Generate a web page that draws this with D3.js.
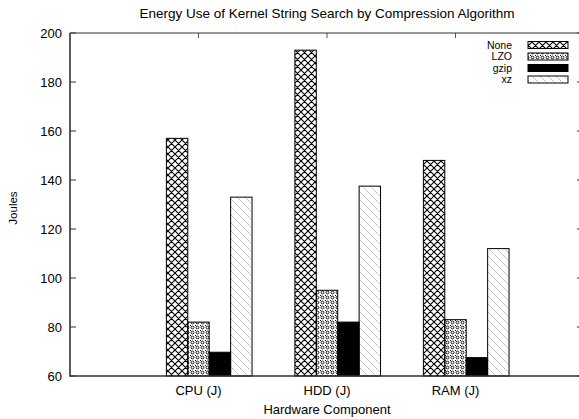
<!DOCTYPE html>
<html>
<head>
<meta charset="utf-8">
<script src="https://cdn.jsdelivr.net/npm/d3@7"></script>
<style>
  body { margin: 0; background: #fff; }
  text { font-family: "Liberation Sans", Arial, sans-serif; fill: #000; }
</style>
</head>
<body>
<div id="main"></div>
<script>
const categories = ["CPU (J)", "HDD (J)", "RAM (J)"];
const seriesNames = ["None", "LZO", "gzip", "xz"];
const noneValues = [157, 193, 148];
const lzoValues = [82, 95, 83];
const gzipValues = [69.7, 82, 67.5];
const xzValues = [133, 137.5, 112];
const yTicks = [60, 80, 100, 120, 140, 160, 180, 200];

const seriesValues = [noneValues, lzoValues, gzipValues, xzValues];
const fills = ["url(#pNone)", "url(#pLzo)", "#000", "url(#pXz)"];

const svgWidth = 579;
const svgHeight = 419;
const plotLeft = 70, plotRight = 584, plotTop = 33, plotBottom = 376;

const svg = d3.select("#main")
              .append("svg")
              .attr("width", svgWidth)
              .attr("height", svgHeight);

// fill patterns, gnuplot style
const defs = svg.append("defs");

const pNone = defs.append("pattern")
                  .attr("id", "pNone")
                  .attr("patternUnits", "userSpaceOnUse")
                  .attr("width", 7).attr("height", 7);
pNone.append("path").attr("d", "M0,0L7,7M7,0L0,7M-1,6L1,8M6,-1L8,1M-1,1L1,-1M6,8L8,6")
     .attr("stroke", "#000").attr("stroke-width", 1.1);

const pLzo = defs.append("pattern")
                 .attr("id", "pLzo")
                 .attr("patternUnits", "userSpaceOnUse")
                 .attr("width", 5).attr("height", 5);
pLzo.append("circle").attr("cx", 2.5).attr("cy", 2.5).attr("r", 1.4)
    .attr("fill", "none").attr("stroke", "#000").attr("stroke-width", 0.9);
pLzo.append("rect").attr("x", 0).attr("y", 0).attr("width", 1).attr("height", 1).attr("fill", "#000");

const pXz = defs.append("pattern")
                .attr("id", "pXz")
                .attr("patternUnits", "userSpaceOnUse")
                .attr("width", 8).attr("height", 8);
pXz.append("path").attr("d", "M0,0L8,8M-1,7L1,9M7,-1L9,1")
   .attr("stroke", "#999").attr("stroke-width", 0.8)
   .attr("stroke-dasharray", "2,1");

const xScale = d3.scaleLinear()
                 .domain([-1, 3])
                 .range([plotLeft, plotRight]);

const yScale = d3.scaleLinear()
                 .domain([60, 200])
                 .range([plotBottom, plotTop]);

const barW = 1 / 6;

// bars
seriesValues.forEach(function(vals, j) {
  svg.append("g")
     .selectAll("rect")
     .data(vals)
     .enter()
     .append("rect")
     .attr("x", function(d, i) { return xScale(i - 0.25 + j * barW) })
     .attr("y", function(d) { return yScale(d) })
     .attr("width", function(d, i) { return xScale(i - 0.25 + (j + 1) * barW) - xScale(i - 0.25 + j * barW) })
     .attr("height", function(d) { return plotBottom - yScale(d) })
     .attr("fill", fills[j])
     .attr("stroke", "#000")
     .attr("stroke-width", 1);
});

// y ticks
const yAxis = svg.append("g");
yTicks.forEach(function(t) {
  yAxis.append("line")
       .attr("x1", plotLeft).attr("x2", plotLeft + 6)
       .attr("y1", yScale(t)).attr("y2", yScale(t))
       .attr("stroke", "#333");
  yAxis.append("line")
       .attr("x1", plotRight).attr("x2", plotRight - 7)
       .attr("y1", yScale(t)).attr("y2", yScale(t))
       .attr("stroke", "#333");
  yAxis.append("text")
       .attr("x", plotLeft - 8)
       .attr("y", yScale(t) + 4.5)
       .attr("text-anchor", "end")
       .attr("font-size", 13)
       .text(t);
});

// x ticks
categories.forEach(function(c, i) {
  svg.append("line")
     .attr("x1", xScale(i)).attr("x2", xScale(i))
     .attr("y1", plotTop).attr("y2", plotTop + 5)
     .attr("stroke", "#555");
  svg.append("text")
     .attr("x", xScale(i))
     .attr("y", plotBottom + 19)
     .attr("text-anchor", "middle")
     .attr("font-size", 13)
     .text(c);
});

// border
svg.append("path")
   .attr("d", "M" + plotLeft + "," + plotTop + "L" + plotRight + "," + plotTop)
   .attr("stroke", "#333").attr("stroke-width", 1).attr("fill", "none");
svg.append("path")
   .attr("d", "M" + plotLeft + "," + plotTop + "L" + plotLeft + "," + plotBottom + "L" + plotRight + "," + plotBottom)
   .attr("stroke", "#333").attr("stroke-width", 1.6).attr("fill", "none");

// titles
svg.append("text")
   .attr("x", 327).attr("y", 18)
   .attr("text-anchor", "middle")
   .attr("font-size", 13.5)
   .text("Energy Use of Kernel String Search by Compression Algorithm");

svg.append("text")
   .attr("x", 327).attr("y", 414)
   .attr("text-anchor", "middle")
   .attr("font-size", 13)
   .text("Hardware Component");

svg.append("text")
   .attr("transform", "translate(17,208) rotate(-90)")
   .attr("text-anchor", "middle")
   .attr("font-size", 11.5)
   .text("Joules");

// legend
const legend = svg.append("g");
seriesNames.forEach(function(name, j) {
  const cy = 45 + j * 11.5;
  legend.append("text")
        .attr("x", 512).attr("y", cy + 3.5)
        .attr("text-anchor", "end")
        .attr("font-size", 10.5)
        .text(name);
  legend.append("rect")
        .attr("x", 528).attr("y", cy - 3.5)
        .attr("width", 40).attr("height", 7)
        .attr("fill", fills[j])
        .attr("stroke", "#000")
        .attr("stroke-width", 1);
});
</script>
</body>
</html>
